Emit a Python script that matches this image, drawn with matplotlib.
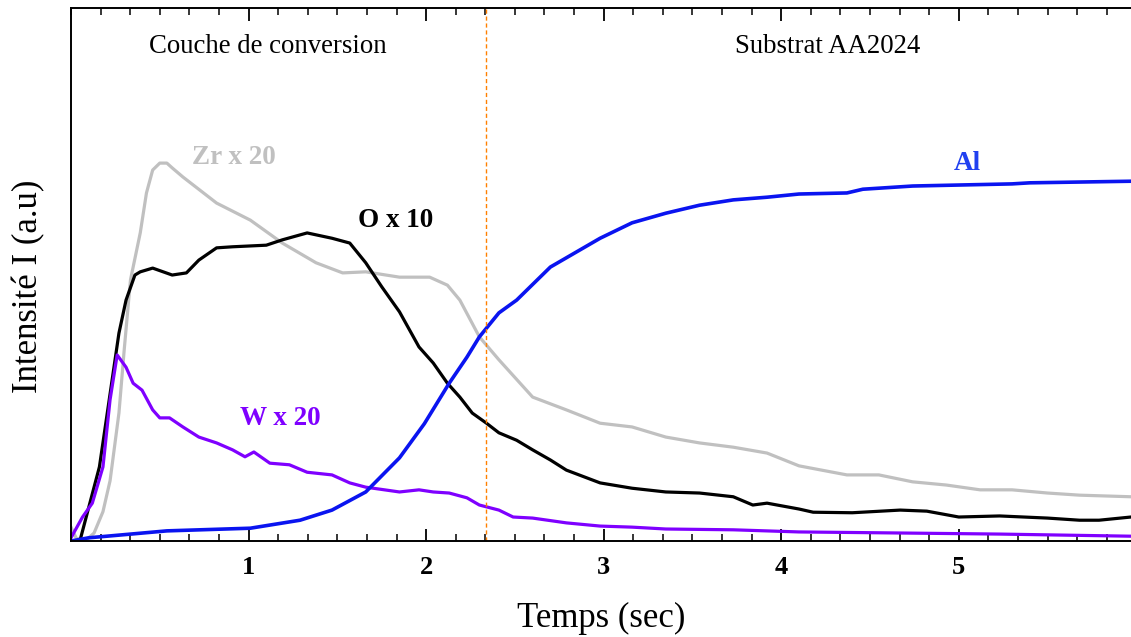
import matplotlib
matplotlib.use("Agg")
import matplotlib.pyplot as plt
from matplotlib.ticker import MultipleLocator

# ---- data (time in s, intensity in a.u.) ----
zr_t = [0.00, 0.03, 0.08, 0.13, 0.18, 0.22, 0.27, 0.30, 0.335, 0.39, 0.425, 0.46, 0.50, 0.54, 0.57, 0.63,
        0.82, 1.01, 1.19, 1.38, 1.53, 1.66, 1.85, 2.02, 2.12, 2.19, 2.30, 2.41, 2.60, 2.79,
        2.98, 3.16, 3.35, 3.54, 3.73, 3.92, 4.10, 4.37, 4.55, 4.74, 4.93, 5.12, 5.30, 5.50, 5.68, 5.97]
zr_y = [2.6, 0.5, 0.0, 1.5, 5.5, 11.3, 24.0, 36.0, 49.0, 57.8, 65.3, 69.6, 70.9, 70.9, 70.0, 68.3,
        63.4, 60.2, 55.9, 52.2, 50.3, 50.5, 49.5, 49.5, 48.0, 45.2, 38.3, 34.0, 27.0, 24.6,
        22.1, 21.4, 19.5, 18.4, 17.6, 16.5, 14.1, 12.4, 12.4, 11.1, 10.5, 9.6, 9.6, 9.0, 8.6, 8.3]

o_t = [0.05, 0.16, 0.27, 0.31, 0.36, 0.39, 0.46, 0.57, 0.65, 0.72, 0.82, 0.91, 1.10, 1.19,
       1.33, 1.47, 1.57, 1.66, 1.75, 1.85, 1.96, 2.04, 2.12, 2.19, 2.26, 2.34, 2.41, 2.51,
       2.60, 2.70, 2.79, 2.98, 3.16, 3.35, 3.54, 3.73, 3.84, 3.92, 4.10, 4.18, 4.40, 4.67,
       4.82, 5.00, 5.23, 5.50, 5.68, 5.79, 5.97]
o_y = [0.0, 13.9, 39.0, 45.2, 49.9, 50.5, 51.2, 49.9, 50.3, 52.7, 55.0, 55.2, 55.5, 56.5,
       57.8, 56.8, 55.9, 52.2, 47.7, 43.0, 36.4, 33.4, 29.6, 27.0, 24.0, 22.1, 20.3, 18.9,
       17.1, 15.2, 13.3, 10.9, 9.9, 9.2, 9.0, 8.3, 6.75, 7.1, 6.0, 5.4, 5.3, 5.8,
       5.6, 4.5, 4.7, 4.3, 3.9, 3.9, 4.5]

w_t = [0.00, 0.065, 0.12, 0.18, 0.22, 0.26, 0.31, 0.35, 0.40, 0.46, 0.50, 0.555, 0.63, 0.72,
       0.82, 0.91, 0.98, 1.03, 1.12, 1.23, 1.33, 1.47, 1.57, 1.66, 1.85, 1.96, 2.04, 2.13,
       2.23, 2.30, 2.41, 2.49, 2.60, 2.79, 2.98, 3.16, 3.35, 3.73, 4.10, 4.67, 5.23, 5.97]
w_y = [0.6, 4.5, 7.1, 13.9, 26.5, 34.9, 32.6, 29.6, 28.3, 24.6, 23.1, 23.1, 21.4, 19.5,
       18.4, 17.1, 15.8, 16.7, 14.6, 14.3, 12.9, 12.4, 10.9, 10.1, 9.2, 9.6, 9.2, 9.0,
       8.1, 6.75, 5.8, 4.5, 4.3, 3.4, 2.8, 2.6, 2.25, 2.1, 1.7, 1.5, 1.3, 0.9]

al_t = [0.00, 0.10, 0.54, 1.01, 1.29, 1.47, 1.66, 1.85, 1.99, 2.13, 2.23, 2.30, 2.41, 2.51,
        2.70, 2.98, 3.16, 3.35, 3.54, 3.73, 3.92, 4.10, 4.37, 4.46, 4.74, 5.30, 5.40, 5.97]
al_y = [0.0, 0.6, 1.9, 2.4, 3.9, 5.8, 9.2, 15.6, 22.0, 29.6, 34.5, 38.3, 42.8, 45.2,
        51.4, 56.8, 59.7, 61.5, 63.0, 64.0, 64.5, 65.1, 65.3, 66.0, 66.6, 67.0, 67.2, 67.5]

boundary_t = 2.34
xticks = [1, 2, 3, 4, 5]

serif = ["Liberation Serif", "DejaVu Serif"]
plt.rcParams["font.family"] = serif

W, H = 1131, 637
fig = plt.figure(figsize=(W / 100, H / 100), dpi=100)
ax = fig.add_axes([71 / W, (H - 541) / H, (W - 71) / W, (541 - 8) / H])

c_zr = "#c0c0c0"
c_o = "#000000"
c_w = "#7f00ff"
c_al = "#0a14f0"
c_al_txt = "#2040f0"

ax.plot(zr_t, zr_y, color=c_zr, lw=2.3, solid_joinstyle="round")
ax.plot(o_t, o_y, color=c_o, lw=2.3, solid_joinstyle="round")
ax.plot(w_t, w_y, color=c_w, lw=2.3, solid_joinstyle="round")
ax.plot(al_t, al_y, color=c_al, lw=2.6, solid_joinstyle="round")
ax.axvline(boundary_t, color="#ff8000", lw=1.0, ls=(0, (3, 2)))

ax.set_xlim(0, 5.97)
ax.set_ylim(0, 100)

ax.xaxis.set_minor_locator(MultipleLocator(1 / 6))
ax.set_xticks(xticks)
ax.set_xticklabels([str(v) for v in xticks], fontweight="bold", fontsize=19)
ax.tick_params(axis="x", which="major", direction="in", length=9, width=1.3, top=True, pad=11)
ax.tick_params(axis="x", which="minor", direction="in", length=5, width=1.1, top=True)
ax.set_yticks([])

for s in ["left", "top", "bottom"]:
    ax.spines[s].set_linewidth(1.4)
ax.spines["right"].set_visible(False)

ax.set_xlabel("Temps (sec)", fontsize=25, labelpad=16)
ax.set_ylabel("Intensité I (a.u)", fontsize=25)
ax.yaxis.set_label_coords(-26 / (W - 71), 0.477)

ax.text(1.11, 92.7, "Couche de conversion", fontsize=19.3, ha="center", va="center")
ax.text(4.26, 92.7, "Substrat AA2024", fontsize=19.3, ha="center", va="center")
ax.text(0.92, 71.9, "Zr x 20", fontsize=19.5, fontweight="bold", color=c_zr, ha="center", va="center")
ax.text(1.83, 60.2, "O x 10", fontsize=19.5, fontweight="bold", color=c_o, ha="center", va="center")
ax.text(1.18, 22.9, "W x 20", fontsize=19.5, fontweight="bold", color=c_w, ha="center", va="center")
ax.text(5.05, 70.9, "Al", fontsize=19.5, fontweight="bold", color=c_al_txt, ha="center", va="center")

fig.savefig("out.png", dpi=100)
